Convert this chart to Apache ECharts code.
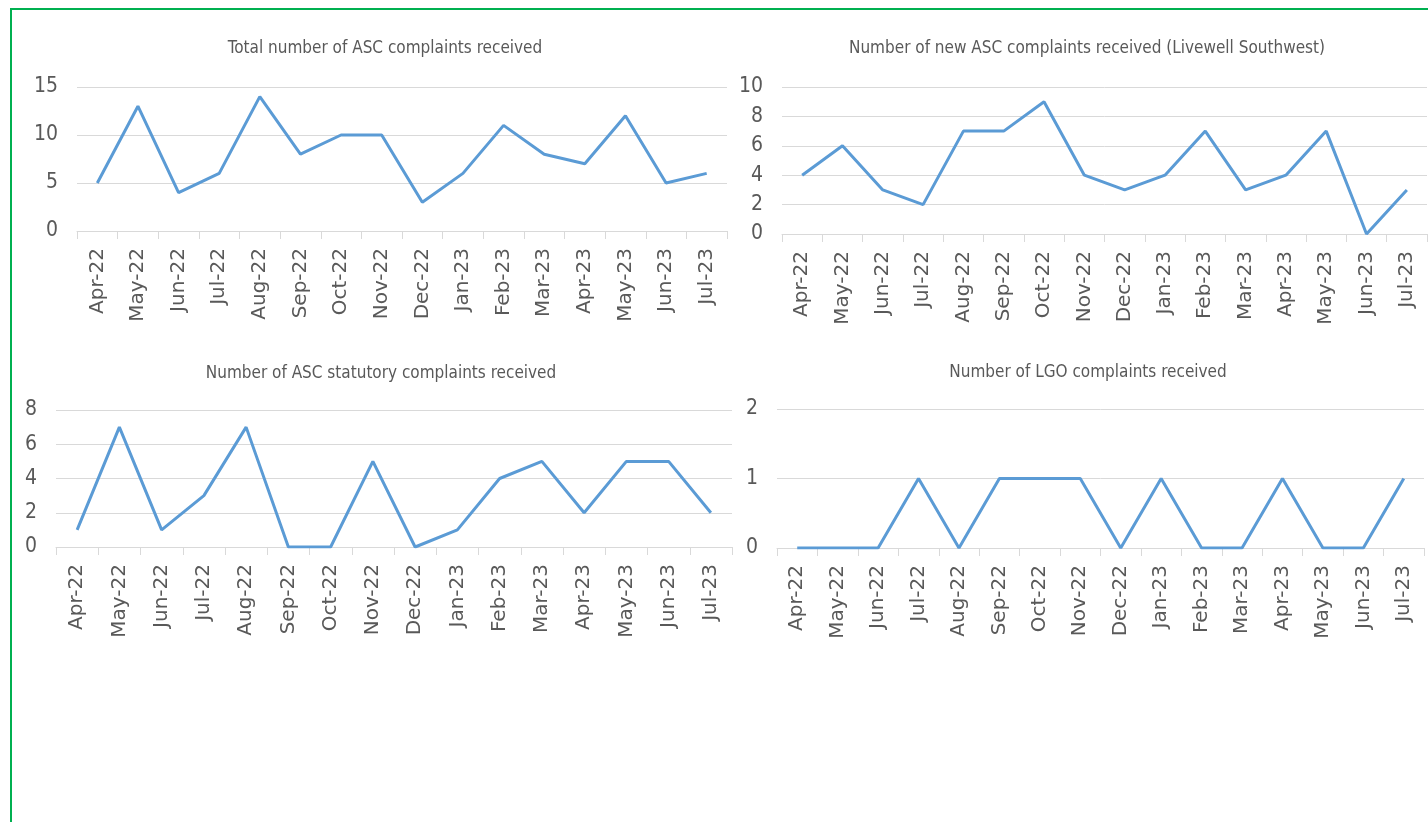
<!DOCTYPE html>
<html>
<head>
<meta charset="utf-8">
<script src="https://cdn.jsdelivr.net/npm/echarts@6/dist/echarts.min.js"></script>
<style>
  html, body { margin: 0; padding: 0; background: #fff; overflow: hidden; }
  #chart { position: absolute; left: 0; top: 0; width: 1428px; height: 822px; }
  #frame { position: absolute; left: 10px; top: 8px; width: 1440px; height: 840px; border: 2px solid #00b050; box-sizing: border-box; }
</style>
</head>
<body>
<div id="chart"></div>
<div id="frame"></div>
<script>
var months = ['Apr-22', 'May-22', 'Jun-22', 'Jul-22', 'Aug-22', 'Sep-22', 'Oct-22', 'Nov-22',
              'Dec-22', 'Jan-23', 'Feb-23', 'Mar-23', 'Apr-23', 'May-23', 'Jun-23', 'Jul-23'];

var totalAsc = [5, 13, 4, 6, 14, 8, 10, 10, 3, 6, 11, 8, 7, 12, 5, 6];
var newAscLivewell = [4, 6, 3, 2, 7, 7, 9, 4, 3, 4, 7, 3, 4, 7, 0, 3];
var statutoryAsc = [1, 7, 1, 3, 7, 0, 0, 5, 0, 1, 4, 5, 2, 5, 5, 2];
var lgoComplaints = [0, 0, 0, 1, 0, 1, 1, 1, 0, 1, 0, 0, 1, 0, 0, 1];

var titles = [
  'Total number of ASC complaints received',
  'Number of new ASC complaints received (Livewell Southwest)',
  'Number of ASC statutory complaints received',
  'Number of LGO complaints received'
];
var yMax = [15, 10, 8, 2];
var yStep = [5, 2, 2, 1];

var seriesData = [totalAsc, newAscLivewell, statutoryAsc, lgoComplaints];

// pixel boxes of the four plots
var grids = [
  { left: 77, top: 87, width: 650, height: 144 },
  { left: 782, top: 87, width: 645, height: 147 },
  { left: 56, top: 410, width: 676, height: 137 },
  { left: 777, top: 409, width: 647, height: 139 }
];
var titlePos = [[380, 35], [1082, 35], [376, 360], [1083, 359]];

var grey = '#595959';
var lineCol = '#d9d9d9';

var myChart = echarts.init(document.getElementById('chart'));
var option = {
  backgroundColor: '#fff',
  animation: false,
  title: [],
  grid: [],
  xAxis: [],
  yAxis: [],
  series: []
};

for (var i = 0; i < 4; i++) {
  option.title.push({
    text: titles[i],
    left: titlePos[i][0],
    top: titlePos[i][1],
    textAlign: 'center',
    textStyle: {
      color: grey,
      fontSize: 17,
      fontWeight: 'normal',
      fontFamily: 'DejaVu Sans Condensed'
    }
  });
  option.grid.push(grids[i]);
  option.xAxis.push({
    type: 'category',
    gridIndex: i,
    data: months,
    boundaryGap: true,
    axisLine: { show: true, lineStyle: { color: lineCol, width: 1 } },
    axisTick: { show: true, length: 8, lineStyle: { color: lineCol } },
    axisLabel: {
      rotate: 90,
      interval: 0,
      margin: 17,
      color: grey,
      fontSize: 20,
      fontFamily: 'DejaVu Sans'
    }
  });
  option.yAxis.push({
    type: 'value',
    gridIndex: i,
    min: 0,
    max: yMax[i],
    interval: yStep[i],
    axisLine: { show: false },
    axisTick: { show: false },
    splitLine: { show: true, lineStyle: { color: lineCol, width: 1 } },
    axisLabel: {
      margin: 19,
      color: grey,
      fontSize: 21,
      fontFamily: 'DejaVu Sans Condensed'
    }
  });
  option.series.push({
    type: 'line',
    xAxisIndex: i,
    yAxisIndex: i,
    data: seriesData[i],
    symbol: 'none',
    lineStyle: { color: '#5b9bd5', width: 3 }
  });
}

option && myChart.setOption(option);
</script>
</body>
</html>
